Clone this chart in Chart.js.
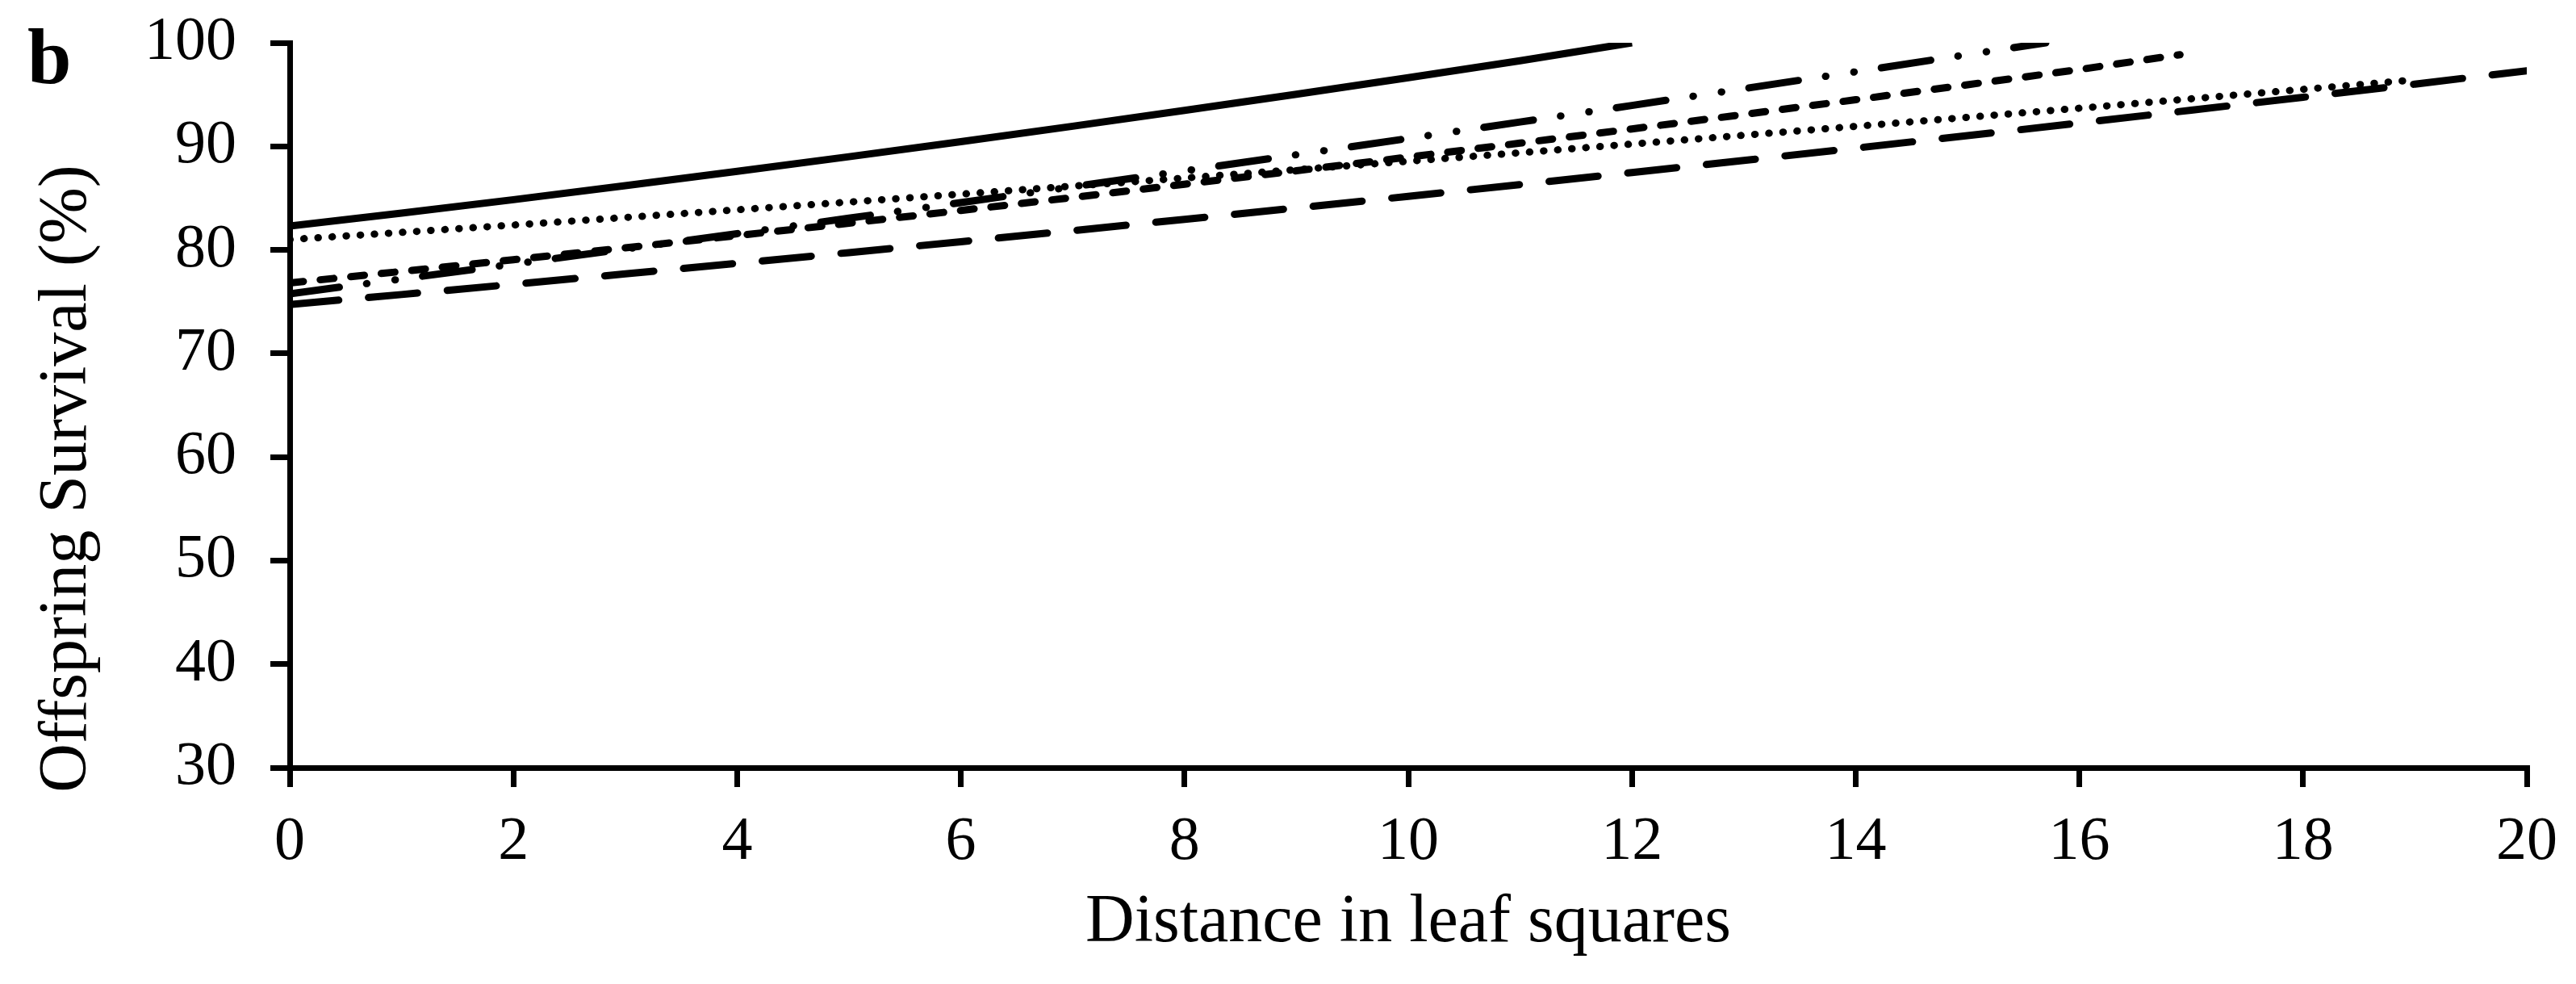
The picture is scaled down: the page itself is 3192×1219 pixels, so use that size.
<!DOCTYPE html>
<html>
<head>
<meta charset="utf-8">
<title>Offspring survival</title>
<script src="https://cdn.jsdelivr.net/npm/chart.js@4.4.0/dist/chart.umd.min.js"></script>
<style>
  html, body { margin: 0; padding: 0; background: #fff; }
  #wrap { width: 3192px; height: 1219px; }
</style>
</head>
<body>
<div id="wrap"><canvas id="chart" width="3192" height="1219"></canvas></div>
<script>
// 📊 DATA
const xTicks = [0, 2, 4, 6, 8, 10, 12, 14, 16, 18, 20];
const yTicks = [30, 40, 50, 60, 70, 80, 90, 100];

const solidX = [0, 1, 2, 3, 4, 5, 6, 7, 8, 9, 10, 11, 12];
const solidY = [82.3, 83.55, 84.85, 86.2, 87.58, 89.0, 90.45, 91.94, 93.47, 95.03, 96.63, 98.27, 100];

const dottedX = [0, 1, 2, 3, 4, 5, 6, 7, 8, 9, 10, 11, 12, 13, 14, 15, 16, 17, 18, 19];
const dottedY = [81.0, 81.69, 82.4, 83.13, 83.87, 84.62, 85.38, 86.16, 86.94, 87.75, 88.56, 89.38, 90.22, 91.07, 91.93, 92.8, 93.68, 94.59, 95.5, 96.42];

const shortDashX = [0, 1, 2, 3, 4, 5, 6, 7, 8, 9, 10, 11, 12, 13, 14, 15, 16, 16.9];
const shortDashY = [76.81, 77.92, 79.05, 80.2, 81.38, 82.58, 83.81, 85.06, 86.34, 87.64, 88.96, 90.31, 91.68, 93.08, 94.5, 95.95, 97.42, 98.85];

const dashDotX = [0, 1, 2, 3, 4, 5, 6, 7, 8, 9, 10, 11, 12, 13, 14, 15, 15.7];
const dashDotY = [75.76, 77.19, 78.63, 80.09, 81.57, 83.06, 84.57, 86.09, 87.63, 89.19, 90.76, 92.35, 93.95, 95.57, 97.2, 98.86, 100];

const longDashX = [0, 1, 2, 3, 4, 5, 6, 7, 8, 9, 10, 11, 12, 13, 14, 15, 16, 17, 18, 19, 20];
const longDashY = [74.72, 75.69, 76.68, 77.68, 78.7, 79.74, 80.79, 81.86, 82.95, 84.05, 85.17, 86.31, 87.47, 88.64, 89.83, 91.03, 92.25, 93.49, 94.74, 96.01, 97.3];

const xTitle = "Distance in leaf squares";
const yTitle = "Offspring Survival (%)";
const panelLabel = "b";

const SERIF = "'Liberation Serif', 'Times New Roman', serif";

function pts(xs, ys) {
    return xs.map((x, i) => ({ x: x, y: ys[i] }));
}

function series(xs, ys, dash) {
    return {
        data: pts(xs, ys),
        borderColor: "#000",
        borderWidth: 9,
        borderDash: dash,
        borderCapStyle: dash.length ? "round" : "butt",
        pointRadius: 0,
        tension: 0,
        fill: false
    };
}

// 🔤 y title + panel letter drawn on the canvas
const extraText = {
    id: "extraText",
    afterDraw(chart) {
        const ctx = chart.ctx;
        const area = chart.chartArea;
        ctx.save();
        ctx.fillStyle = "#000";

        ctx.font = "bold 98px " + SERIF;
        ctx.textAlign = "left";
        ctx.textBaseline = "alphabetic";
        ctx.fillText(panelLabel, 34, 103);

        ctx.translate(106, area.bottom - 358);
        ctx.rotate(-Math.PI / 2);
        ctx.font = "84px " + SERIF;
        ctx.textAlign = "center";
        ctx.fillText(yTitle, 0, 0);
        ctx.restore();
    }
};

const axisStyle = {
    grid: { drawOnChartArea: false, drawTicks: true, tickLength: 24, lineWidth: 7, color: "#000" },
    border: { display: true, width: 7, color: "#000" }
};

new Chart(document.getElementById("chart").getContext("2d"), {
    type: "line",
    data: {
        datasets: [
            series(solidX, solidY, []),
            series(dottedX, dottedY, [0.5, 17]),
            series(shortDashX, shortDashY, [17, 21]),
            series(dashDotX, dashDotY, [62, 34, 0.5, 35, 0.5, 34]),
            series(longDashX, longDashY, [61, 37])
        ]
    },
    options: {
        responsive: false,
        devicePixelRatio: 1,
        animation: false,
        layout: { padding: { top: 53, right: 61, left: 0, bottom: 0 } },
        plugins: { legend: { display: false }, tooltip: { enabled: false } },
        scales: {
            x: {
                type: "linear",
                min: xTicks[0],
                max: xTicks[xTicks.length - 1],
                afterBuildTicks: s => { s.ticks = xTicks.map(v => ({ value: v })); },
                afterFit: s => { s.height = 268; s.paddingLeft = 0; s.paddingRight = 0; },
                ticks: { color: "#000", padding: 23, maxRotation: 0, font: { family: SERIF, size: 76 } },
                title: {
                    display: true, text: xTitle, color: "#000",
                    font: { family: SERIF, size: 84 },
                    padding: { top: 0, bottom: 25 }
                },
                ...axisStyle
            },
            y: {
                min: yTicks[0],
                max: yTicks[yTicks.length - 1],
                afterBuildTicks: s => { s.ticks = yTicks.map(v => ({ value: v })); },
                afterFit: s => { s.width = 359; s.paddingTop = 0; s.paddingBottom = 0; },
                ticks: { color: "#000", padding: 42, font: { family: SERIF, size: 76 } },
                ...axisStyle
            }
        }
    },
    plugins: [extraText]
});
</script>
</body>
</html>
